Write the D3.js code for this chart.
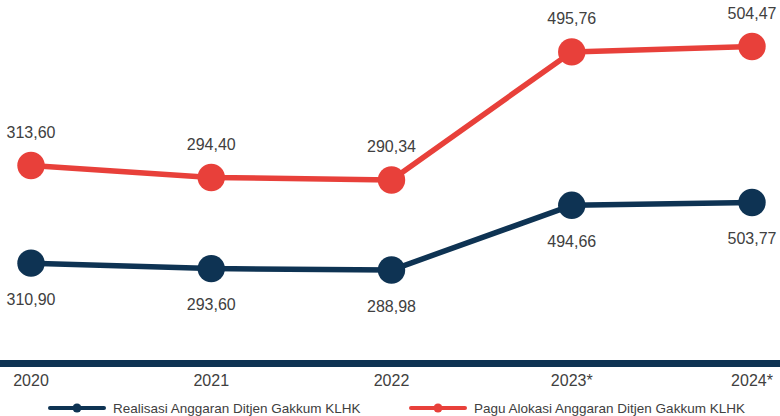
<!DOCTYPE html>
<html>
<head>
<meta charset="utf-8">
<script src="https://cdn.jsdelivr.net/npm/d3@7"></script>
<style>
  html, body { margin: 0; padding: 0; background: #ffffff; }
  svg { display: block; font-family: "Liberation Sans", Arial, sans-serif; }
</style>
</head>
<body>
<svg id="chart" width="780" height="416"></svg>
<script>
// Budget data (billion rupiah) for Ditjen Gakkum KLHK
const years = ["2020", "2021", "2022", "2023*", "2024*"];
const realisasi = [310.90, 293.60, 288.98, 494.66, 503.77];
const pagu = [313.60, 294.40, 290.34, 495.76, 504.47];
const seriesNames = ["Realisasi Anggaran Ditjen Gakkum KLHK", "Pagu Alokasi Anggaran Ditjen Gakkum KLHK"];

const NAVY = "#0e3353";
const RED = "#e8403a";
const TEXT = "#404040";

const svg = d3.select("#chart");
const W = 780;

const x = d3.scalePoint().domain(years).range([31, 752]);

// Each series is plotted on its own value axis (hidden), both starting at the baseline
const yPagu = d3.scaleLinear().domain([0, 579]).range([361, 0]);
const yReal = d3.scaleLinear().domain([0, 1147]).range([361, 0]);

const fmt = v => d3.format(".2f")(v).replace(".", ",");

// baseline bar
svg.append("rect")
  .attr("x", 0).attr("y", 360).attr("width", W).attr("height", 7)
  .attr("fill", NAVY);

// category labels
svg.append("g").selectAll("text")
  .data(years).join("text")
  .attr("x", d => x(d))
  .attr("y", 386)
  .attr("text-anchor", "middle")
  .attr("font-size", 16)
  .attr("fill", TEXT)
  .text(d => d);

function drawSeries(values, yScale, color, labelDy) {
  const g = svg.append("g");
  const line = d3.line().x((d, i) => x(years[i])).y(d => yScale(d));
  g.append("path")
    .datum(values)
    .attr("d", line)
    .attr("fill", "none")
    .attr("stroke", color)
    .attr("stroke-width", 5.5)
    .attr("stroke-linejoin", "round");
  g.selectAll("circle")
    .data(values).join("circle")
    .attr("cx", (d, i) => x(years[i]))
    .attr("cy", d => yScale(d))
    .attr("r", 13.7)
    .attr("fill", color);
  g.selectAll("text")
    .data(values).join("text")
    .attr("x", (d, i) => x(years[i]))
    .attr("y", d => yScale(d) + labelDy)
    .attr("text-anchor", "middle")
    .attr("font-size", 16)
    .attr("fill", TEXT)
    .text(d => fmt(d));
}

drawSeries(pagu, yPagu, RED, -27.5);
drawSeries(realisasi, yReal, NAVY, 41.5);

// legend
const legend = [
  { name: seriesNames[0], color: NAVY, x0: 50 },
  { name: seriesNames[1], color: RED, x0: 411 }
];
const lg = svg.append("g");
legend.forEach(item => {
  lg.append("line")
    .attr("x1", item.x0).attr("x2", item.x0 + 54)
    .attr("y1", 408).attr("y2", 408)
    .attr("stroke", item.color).attr("stroke-width", 4)
    .attr("stroke-linecap", "round");
  lg.append("circle")
    .attr("cx", item.x0 + 27).attr("cy", 408).attr("r", 4.5)
    .attr("fill", item.color);
  lg.append("text")
    .attr("x", item.x0 + 63).attr("y", 412.8)
    .attr("font-size", 13.5)
    .attr("fill", TEXT)
    .text(item.name);
});
</script>
</body>
</html>
